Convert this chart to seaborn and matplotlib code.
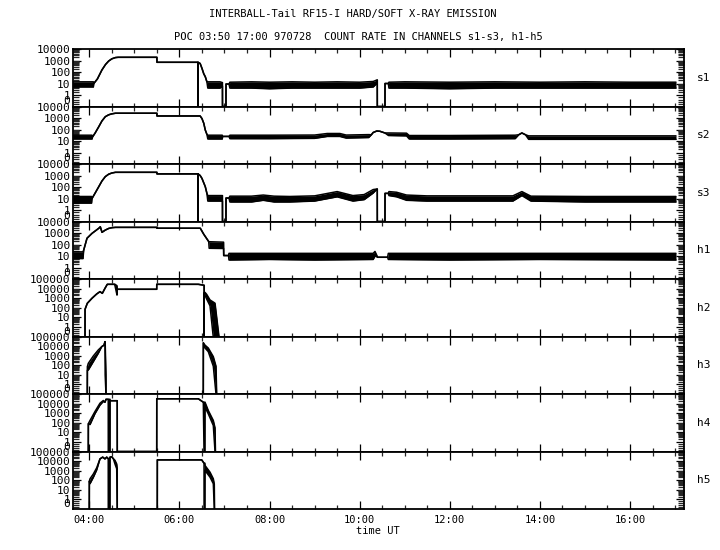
import numpy as np
import pandas as pd
import matplotlib
matplotlib.use("Agg")
import matplotlib.pyplot as plt
import matplotlib.ticker as mticker
import seaborn as sns

# ---------------- data (hours UT, counts) ----------------
channels = ["s1", "s2", "s3", "h1", "h2", "h3", "h4", "h5"]

s1_t  = [3.62, 4.09, 4.10, 4.18, 4.28, 4.36, 4.43, 4.50, 4.58, 4.64, 5.500, 5.502, 6.411, 6.412, 6.414, 6.46, 6.50, 6.54, 6.574, 6.61, 6.63, 6.90, 6.955, 6.956, 7.033, 7.034, 7.10, 7.12, 7.6, 8.0, 8.5, 9.0, 9.5, 10.0, 10.30, 10.38, 10.391, 10.392, 10.562, 10.563, 10.636, 10.65, 11.0, 12.0, 13.0, 14.0, 15.0, 16.0, 17.02]
s1_lo = [5, 5, 10, 25, 150, 450, 900, 1400, 1800, 1900, 1900, 700, 700, 0, 700, 550, 210, 70, 39, 14, 4, 4, 6, 0, 0, 9, 9, 4, 4, 3.5, 4, 4, 4, 4, 5, 10, 20, 0, 0, 10, 10, 4, 4, 3.5, 4, 4, 4, 4, 4]
s1_hi = [14, 14, 10, 25, 150, 450, 900, 1400, 1800, 1900, 1900, 700, 700, 700, 700, 550, 210, 70, 39, 14, 14, 14, 12, 0, 0, 9, 9, 13, 14, 13, 14, 13, 14, 13, 15, 20, 20, 0, 0, 10, 10, 13, 14, 13, 14, 13, 14, 13, 13]

s2_t  = [3.62, 4.06, 4.07, 4.13, 4.21, 4.28, 4.355, 4.43, 4.50, 4.58, 5.500, 5.502, 6.46, 6.50, 6.54, 6.574, 6.61, 6.63, 6.95, 6.96, 7.10, 7.12, 8.0, 9.0, 9.28, 9.56, 9.70, 10.20, 10.26, 10.30, 10.38, 10.45, 10.56, 10.64, 11.04, 11.10, 12.0, 13.45, 13.53, 13.60, 13.68, 13.75, 15.0, 17.02]
s2_lo = [15, 15, 22, 50, 175, 550, 1300, 1900, 2300, 2600, 2600, 1500, 1500, 900, 350, 90, 38, 15, 15, 25, 25, 16, 16, 17, 25, 25, 18, 20, 35, 55, 74, 70, 50, 30, 28, 15, 15, 16, 35, 50, 35, 14, 14, 14]
s2_hi = [32, 32, 22, 50, 175, 550, 1300, 1900, 2300, 2600, 2600, 1500, 1500, 900, 350, 90, 38, 32, 32, 25, 25, 32, 32, 33, 45, 45, 33, 36, 35, 55, 74, 70, 50, 50, 48, 30, 30, 32, 35, 50, 35, 28, 28, 28]

s3_t  = [3.62, 4.05, 4.06, 4.13, 4.21, 4.28, 4.355, 4.43, 4.50, 4.58, 5.500, 5.502, 6.411, 6.412, 6.414, 6.46, 6.50, 6.574, 6.61, 6.63, 6.955, 6.956, 7.033, 7.034, 7.10, 7.12, 7.6, 7.86, 8.1, 8.45, 9.0, 9.50, 9.85, 10.10, 10.30, 10.385, 10.391, 10.392, 10.562, 10.563, 10.636, 10.65, 10.82, 11.04, 11.49, 13.40, 13.60, 13.80, 15.0, 17.02]
s3_lo = [4, 4, 10, 30, 107, 330, 800, 1300, 1650, 1900, 1900, 1380, 1380, 0, 1380, 1000, 560, 107, 28, 6, 6, 0, 0, 11, 11, 5, 5, 7, 5, 5, 6, 14, 6, 8, 30, 67, 67, 0, 0, 28, 28, 18, 14, 7, 6, 6, 18, 6, 5, 5]
s3_hi = [15, 15, 10, 30, 107, 330, 800, 1300, 1650, 1900, 1900, 1380, 1380, 1380, 1380, 1000, 560, 107, 28, 18, 18, 0, 0, 11, 11, 16, 16, 20, 16, 15, 17, 40, 18, 22, 60, 67, 67, 0, 0, 28, 28, 40, 35, 20, 17, 17, 40, 16, 15, 15]

h1_t  = [3.62, 3.86, 3.876, 3.949, 4.06, 4.21, 4.244, 4.282, 4.355, 4.43, 4.50, 4.58, 5.500, 5.502, 6.463, 6.54, 6.65, 6.66, 6.98, 6.983, 7.09, 7.10, 8.0, 9.0, 10.30, 10.34, 10.40, 10.62, 10.636, 12.0, 14.0, 17.02]
h1_lo = [6, 6, 33, 350, 930, 2570, 3500, 1150, 1800, 2500, 2900, 3100, 3100, 2600, 2600, 780, 180, 47, 45, 11, 11, 4.5, 5, 4.5, 5, 10, 7.8, 7.8, 5, 4.5, 5, 4.5]
h1_hi = [23, 23, 33, 350, 930, 2570, 3500, 1150, 1800, 2500, 2900, 3100, 3100, 2600, 2600, 780, 180, 175, 160, 11, 11, 17, 17, 17, 17, 25, 7.8, 7.8, 17, 17, 17, 17]

h2_t  = [3.905, 3.906, 3.956, 4.06, 4.164, 4.237, 4.289, 4.348, 4.399, 4.56, 4.57, 4.615, 4.62, 5.496, 5.497, 6.419, 6.508, 6.548, 6.549, 6.551, 6.568, 6.605, 6.679, 6.75, 6.79, 6.878]
h2_lo = [0, 70, 295, 980, 2750, 4800, 3200, 10700, 28000, 28000, 20000, 2100, 8500, 8500, 28000, 28000, 24000, 22000, 0, 3500, 2000, 800, 160, 0, 0, 0]
h2_hi = [0, 70, 295, 980, 2750, 4800, 3200, 10700, 28000, 28000, 28000, 20000, 8500, 8500, 28000, 28000, 24000, 22000, 22000, 3500, 4000, 2500, 650, 400, 300, 0]

h3_t  = [3.956, 3.957, 3.978, 4.089, 4.20, 4.275, 4.326, 4.348, 4.352, 4.37, 4.371, 6.530, 6.531, 6.568, 6.641, 6.752, 6.812, 6.827]
h3_lo = [0, 30, 32, 240, 1800, 8700, 12600, 29000, 10, 0, 0, 0, 22000, 6300, 2600, 80, 0, 0]
h3_hi = [0, 72, 160, 930, 4000, 8700, 12600, 29000, 29000, 10, 0, 0, 22000, 12600, 6300, 800, 80, 0]

h4_t  = [3.978, 3.979, 4.016, 4.126, 4.237, 4.311, 4.348, 4.371, 4.42, 4.421, 4.46, 4.461, 4.620, 4.621, 5.496, 5.497, 6.419, 6.53, 6.546, 6.566, 6.568, 6.641, 6.752, 6.79, 6.80]
h4_lo = [0, 80, 65, 900, 7000, 17000, 14000, 28000, 28000, 0, 0, 20000, 20000, 0, 0, 32000, 32000, 14000, 0, 0, 4200, 850, 52, 0, 0]
h4_hi = [0, 80, 175, 1500, 11000, 21000, 14000, 28000, 28000, 28000, 28000, 20000, 20000, 0, 0, 32000, 32000, 14000, 14000, 14000, 14000, 1900, 175, 30, 0]

h5_t  = [4.000, 4.001, 4.016, 4.089, 4.164, 4.237, 4.297, 4.348, 4.386, 4.42, 4.421, 4.459, 4.46, 4.497, 4.533, 4.57, 4.608, 4.62, 4.621, 5.509, 5.510, 6.494, 6.546, 6.547, 6.566, 6.568, 6.679, 6.752, 6.774, 6.78]
h5_lo = [0, 80, 44, 200, 1200, 17000, 26000, 17000, 26000, 18000, 0, 0, 26000, 28000, 18000, 5000, 1600, 0, 0, 0, 13500, 13500, 6000, 0, 0, 1050, 210, 44, 0, 0]
h5_hi = [0, 80, 145, 450, 2000, 17000, 26000, 17000, 26000, 18000, 18000, 18000, 26000, 28000, 18000, 12000, 5000, 1600, 0, 0, 13500, 13500, 6000, 6000, 6000, 3500, 700, 145, 40, 0]

series = {
    "s1": (s1_t, s1_lo, s1_hi), "s2": (s2_t, s2_lo, s2_hi), "s3": (s3_t, s3_lo, s3_hi),
    "h1": (h1_t, h1_lo, h1_hi), "h2": (h2_t, h2_lo, h2_hi), "h3": (h3_t, h3_lo, h3_hi),
    "h4": (h4_t, h4_lo, h4_hi), "h5": (h5_t, h5_lo, h5_hi),
}
ytop = {"s1": 1e4, "s2": 1e4, "s3": 1e4, "h1": 1e4, "h2": 1e5, "h3": 1e5, "h4": 1e5, "h5": 1e5}

title1 = "INTERBALL-Tail RF15-I HARD/SOFT X-RAY EMISSION"
title2 = "POC 03:50 17:00 970728  COUNT RATE IN CHANNELS s1-s3, h1-h5"
xlabel = "time UT"
x_range = (3.632, 17.198)

# ---------------- style ----------------
sns.set_theme(style="white")
plt.rcParams["font.family"] = ["DejaVu Sans Mono", "DejaVu Sans"]
plt.rcParams["axes.linewidth"] = 1.3
plt.rcParams["axes.edgecolor"] = "black"
plt.rcParams["text.color"] = "black"
plt.rcParams["axes.labelcolor"] = "black"


def fwd(y):
    y = np.asarray(y, dtype=float)
    return np.where(y >= 1, np.log10(np.maximum(y, 1.0)), y - 1.0)


def inv(y):
    y = np.asarray(y, dtype=float)
    return np.where(y >= 0, 10.0 ** np.minimum(y, 12), y + 1.0)


def hm(x, pos):
    h = int(np.floor(x + 1e-6))
    m = int(round((x - h) * 60))
    return f"{h:02d}:{m:02d}"


fig, axes = plt.subplots(8, 1, figsize=(7.2, 5.5), dpi=100, sharex=True)
fig.subplots_adjust(left=0.101, right=0.95, top=0.9109, bottom=0.0745, hspace=0)

for ax, ch in zip(axes, channels):
    t, lo, hi = series[ch]
    ax.set_yscale("function", functions=(fwd, inv))
    ax.fill_between(t, lo, hi, color="black", lw=0)
    df = pd.DataFrame({"t": t, "lo": lo, "hi": hi})
    sns.lineplot(data=df, x="t", y="hi", estimator=None, sort=False,
                 color="black", lw=1.1, ax=ax)
    sns.lineplot(data=df, x="t", y="lo", estimator=None, sort=False,
                 color="black", lw=1.1, ax=ax)
    top = ytop[ch]
    ax.set_ylim(0, top)
    ax.set_xlim(*x_range)
    ndec = int(round(np.log10(top)))
    majors = [10.0 ** k for k in range(0, ndec + 1)]
    ax.yaxis.set_major_locator(mticker.FixedLocator(majors))
    ax.yaxis.set_major_formatter(mticker.FixedFormatter([str(int(v)) for v in majors]))
    minors = [0.2, 0.4, 0.6, 0.8] + [m * 10.0 ** k for k in range(0, ndec) for m in range(2, 10)]
    ax.yaxis.set_minor_locator(mticker.FixedLocator(minors))
    ax.yaxis.set_minor_formatter(mticker.NullFormatter())
    ax.tick_params(axis="y", which="major", direction="in", left=True, right=True,
                   length=6, width=0.9, pad=1.5, labelsize=8, colors="black")
    ax.tick_params(axis="y", which="minor", direction="in", left=True, right=True,
                   length=4, width=0.9)
    ax.text(-0.004, 0.5, "0", transform=ax.get_yaxis_transform(), ha="right",
            va="center", fontsize=8)
    ax.xaxis.set_major_locator(mticker.MultipleLocator(2))
    ax.xaxis.set_minor_locator(mticker.MultipleLocator(0.5))
    ax.xaxis.set_major_formatter(mticker.FuncFormatter(hm))
    ax.tick_params(axis="x", which="major", direction="in", top=True, bottom=True,
                   length=6, width=0.9, pad=4, labelsize=7.5, colors="black")
    ax.tick_params(axis="x", which="minor", direction="in", top=True, bottom=True,
                   length=3, width=0.9)
    ax.set_xlabel("")
    ax.set_ylabel("")
    ax.grid(False)
    for sp in ax.spines.values():
        sp.set_visible(True)
        sp.set_color("black")
    ax.text(1.021, 0.5, ch, transform=ax.transAxes, ha="left", va="center", fontsize=8)

axes[-1].set_xlabel(xlabel, fontsize=7.5, labelpad=1)
fig.text(0.49, 0.9745, title1, ha="center", va="center", fontsize=7.5)
fig.text(0.498, 0.9327, title2, ha="center", va="center", fontsize=7.5)

fig.savefig("out.png", dpi=100, facecolor="white")
